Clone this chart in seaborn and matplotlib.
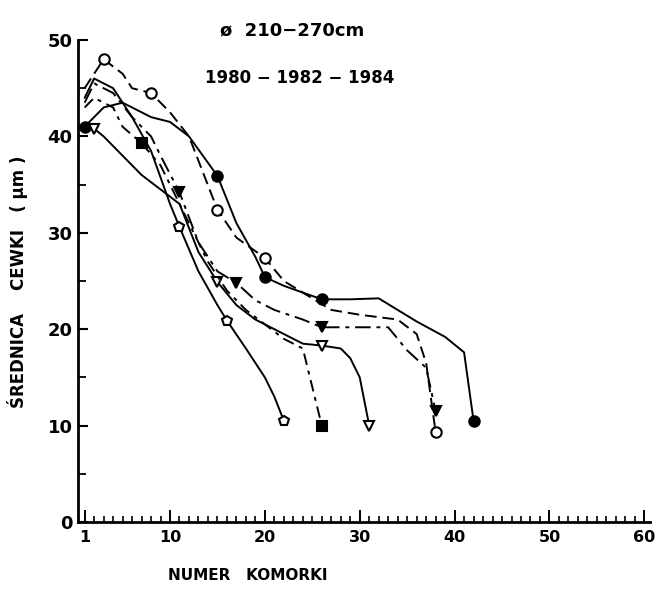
import matplotlib
matplotlib.use("Agg")
import matplotlib.pyplot as plt
from matplotlib.ticker import FixedLocator, MultipleLocator
import numpy as np
import pandas as pd
import seaborn as sns

# Tracheid diameter along the radial file, trees of 210-270 cm girth
cells_fc = [1, 3, 5, 8, 10, 12, 15, 17, 19, 20, 22, 24, 26, 29, 32, 34, 36, 39, 41, 42]
diam_fc = [41, 43, 43.5, 42, 41.5, 40, 35.9, 31, 27.5, 25.4, 24.5, 23.8, 23.1, 23.1, 23.2, 22, 20.8, 19.2, 17.6, 10.5]
marks_fc = [1, 15, 20, 26, 42]

cells_oc = [1, 3, 5, 6, 8, 10, 12, 15, 17, 20, 22, 24, 27, 30, 34, 36, 37, 38]
diam_oc = [45, 48, 46.5, 45, 44.5, 42.5, 40, 32.4, 29.5, 27.4, 25, 23.8, 22, 21.5, 21, 19.5, 16.5, 9.3]
marks_oc = [3, 8, 15, 20, 38]

cells_ft = [1, 2, 4, 6, 8, 9, 11, 13, 15, 17, 19, 21, 24, 26, 30, 33, 35, 37, 38]
diam_ft = [43.5, 45.5, 44.5, 42, 40, 38, 34.2, 29, 26, 24.8, 23, 22, 21, 20.2, 20.2, 20.2, 17.8, 16, 11.5]
marks_ft = [11, 17, 26, 38]

cells_ot = [1, 2, 3, 5, 7, 9, 11, 13, 15, 17, 19, 21, 23, 24, 26, 28, 29, 30, 31]
diam_ot = [41, 40.8, 40, 38, 36, 34.5, 33, 28, 24.9, 22.5, 21, 20, 19, 18.5, 18.3, 18, 17, 15, 10]
marks_ot = [2, 15, 26, 31]

cells_fs = [1, 2, 4, 5, 7, 9, 10, 12, 14, 16, 18, 20, 22, 24, 25, 26]
diam_fs = [43, 44, 43, 41, 39.3, 37, 35, 31, 27, 24, 22, 20.5, 19, 18, 14, 10]
marks_fs = [7, 26]

cells_oh = [1, 2, 4, 6, 8, 10, 11, 13, 15, 16, 18, 20, 21, 22]
diam_oh = [44, 46, 45, 42, 38.5, 33, 30.6, 26, 22.5, 20.9, 18, 15, 13, 10.5]
marks_oh = [11, 16, 22]

x_ticks = [1, 10, 20, 30, 40, 50, 60]
y_ticks = [0, 10, 20, 30, 40, 50]

series = [
    # cells, diameters, marked cells, marker, filled, linestyle
    (cells_fc, diam_fc, marks_fc, "o", True, "-"),
    (cells_oc, diam_oc, marks_oc, "o", False, (0, (6, 3))),
    (cells_ft, diam_ft, marks_ft, "v", True, (0, (8, 3, 2, 3))),
    (cells_ot, diam_ot, marks_ot, "v", False, "-"),
    (cells_fs, diam_fs, marks_fs, "s", True, (0, (6, 3, 2, 3))),
    (cells_oh, diam_oh, marks_oh, "p", False, "-"),
]

sns.set_style("ticks")
plt.rcParams["font.family"] = ["DejaVu Sans"]
for key in ["text.color", "axes.labelcolor", "xtick.color", "ytick.color", "axes.edgecolor"]:
    plt.rcParams[key] = "black"

fig = plt.figure(figsize=(6.6, 5.95), dpi=100)
ax = fig.add_axes([78 / 660, 73 / 595, 572 / 660, 482 / 595])

for i, (cx, dy, mk, marker, filled, ls) in enumerate(series):
    df = pd.DataFrame({"cell": cx, "diam": dy})
    idx = [cx.index(c) for c in mk]
    sns.lineplot(
        data=df, x="cell", y="diam", ax=ax, sort=False, estimator=None,
        color="black", linewidth=1.4, linestyle=ls,
        marker=marker, markevery=idx, markersize=7.5,
        markerfacecolor="black" if filled else "white",
        markeredgecolor="black", markeredgewidth=1.5,
    )

ax.set_xlim(0.3, 60.6)
ax.set_ylim(0, 50)
ax.xaxis.set_major_locator(FixedLocator(x_ticks))
ax.xaxis.set_minor_locator(MultipleLocator(1))
ax.yaxis.set_major_locator(FixedLocator(y_ticks))
ax.yaxis.set_minor_locator(MultipleLocator(5))
ax.set_xticklabels([str(t) for t in x_ticks])
ax.set_yticklabels([str(t) for t in y_ticks])

for s in ["top", "right"]:
    ax.spines[s].set_visible(False)
for s in ["left", "bottom"]:
    ax.spines[s].set_linewidth(2.0)

ax.tick_params(axis="x", which="major", direction="in", length=9, width=1.4,
               labelsize=11.5, pad=6)
ax.tick_params(axis="x", which="minor", direction="in", length=4, width=1.2)
ax.tick_params(axis="y", which="major", direction="in", length=7, width=1.5,
               labelsize=13, pad=4)
ax.tick_params(axis="y", which="minor", direction="in", length=6, width=1.3)
for lab in ax.get_xticklabels() + ax.get_yticklabels():
    lab.set_fontweight("bold")

ax.set_xlabel("")
ax.set_ylabel("")

fig.text(18 / 660, 1 - 282 / 595, "ŚREDNICA    CEWKI   ( μm )", rotation=90,
         ha="center", va="center", fontsize=12, fontweight="bold")
fig.text(248 / 660, 1 - 575 / 595, "NUMER   KOMORKI", ha="center", va="center",
         fontsize=11, fontweight="bold")
fig.text(292 / 660, 1 - 30 / 595, "ø  210−270cm", ha="center", va="center",
         fontsize=13, fontweight="bold")
fig.text(300 / 660, 1 - 78 / 595, "1980 − 1982 − 1984", ha="center", va="center",
         fontsize=12, fontweight="bold")

fig.savefig("out.png", dpi=100, facecolor="white")
